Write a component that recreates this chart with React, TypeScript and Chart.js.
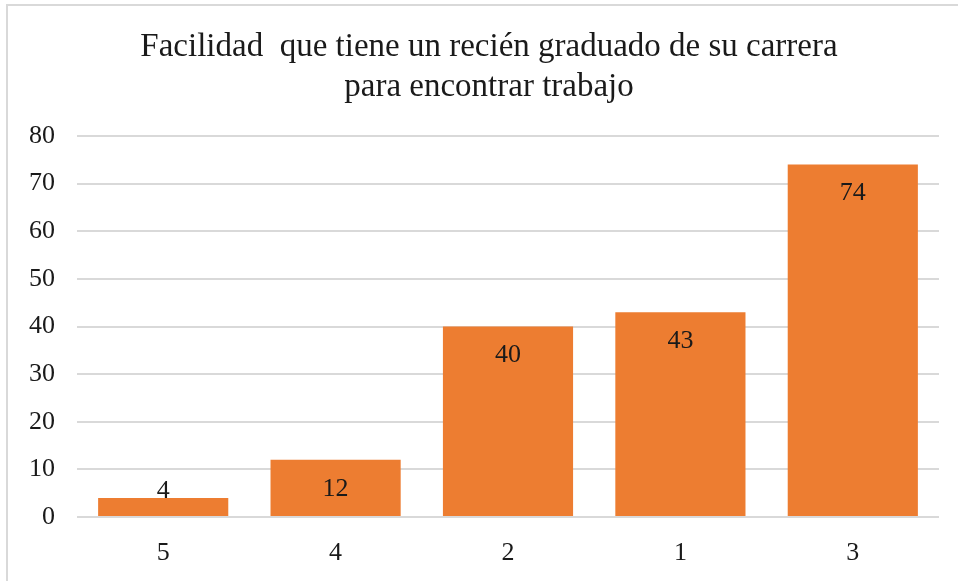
import React, { useEffect, useRef } from "react";
import { Chart, registerables } from "chart.js";

Chart.register(...registerables);

const categories = ["5", "4", "2", "1", "3"];
const values = [4, 12, 40, 43, 74];
const titleLines = ["Facilidad  que tiene un recién graduado de su carrera", "para encontrar trabajo"];

const FONT = "'Liberation Serif', 'Times New Roman', serif";

const titlePlugin = {
  id: "serifTitle",
  afterDraw(chart: any) {
    const ctx = chart.ctx;
    ctx.save();
    ctx.font = `33px ${FONT}`;
    ctx.fillStyle = "#1a1a1a";
    ctx.textAlign = "center";
    ctx.textBaseline = "middle";
    titleLines.forEach((line, i) => {
      ctx.fillText(line, 489, 47 + i * 40);
    });
    ctx.restore();
  },
};

const labelPlugin = {
  id: "innerLabels",
  afterDatasetsDraw(chart: any) {
    const ctx = chart.ctx;
    const meta = chart.getDatasetMeta(0);
    const base = chart.scales.y.getPixelForValue(0);
    ctx.save();
    ctx.font = `26px ${FONT}`;
    ctx.fillStyle = "#1a1a1a";
    ctx.textAlign = "center";
    ctx.textBaseline = "middle";
    meta.data.forEach((bar: any, i: number) => {
      const y = Math.min(bar.y + 29, base - 26);
      ctx.fillText(String(values[i]), bar.x, y);
    });
    ctx.restore();
  },
};

export default function App() {
  const ref = useRef<HTMLCanvasElement>(null);
  useEffect(() => {
    document.body.style.margin = "0";
    const chart = new Chart(ref.current!, {
      type: "bar",
      data: {
        labels: categories,
        datasets: [
          {
            data: values,
            backgroundColor: "#ED7D31",
            categoryPercentage: 0.755,
            barPercentage: 1,
          },
        ],
      },
      options: {
        animation: false,
        responsive: false,
        layout: { padding: { left: 0, right: 19, top: 136, bottom: 0 } },
        plugins: {
          legend: { display: false },
          tooltip: { enabled: false },
          title: { display: false },
        },
        scales: {
          x: {
            afterFit: (s: any) => {
              s.height = 64;
            },
            grid: { display: false },
            border: { display: false },
            ticks: { color: "#1a1a1a", font: { family: FONT, size: 26 }, padding: 13 },
          },
          y: {
            min: 0,
            max: 80,
            afterFit: (s: any) => {
              s.width = 77;
            },
            grid: { color: "#d9d9d9", lineWidth: 2, drawTicks: false },
            border: { display: false },
            ticks: { stepSize: 10, color: "#1a1a1a", font: { family: FONT, size: 26 }, padding: 22 },
          },
        },
      },
      plugins: [labelPlugin, titlePlugin],
    });
    return () => chart.destroy();
  }, []);
  return (
    <div style={{ position: "relative", width: 958, height: 581, overflow: "hidden", background: "#fff" }}>
      <canvas ref={ref} width={958} height={581} style={{ position: "absolute", left: 0, top: 0 }} />
      <div
        style={{
          position: "absolute",
          left: 6,
          top: 4,
          width: 1000,
          height: 700,
          borderTop: "2px solid #d9d9d9",
          borderLeft: "2px solid #d9d9d9",
          pointerEvents: "none",
        }}
      />
    </div>
  );
}
